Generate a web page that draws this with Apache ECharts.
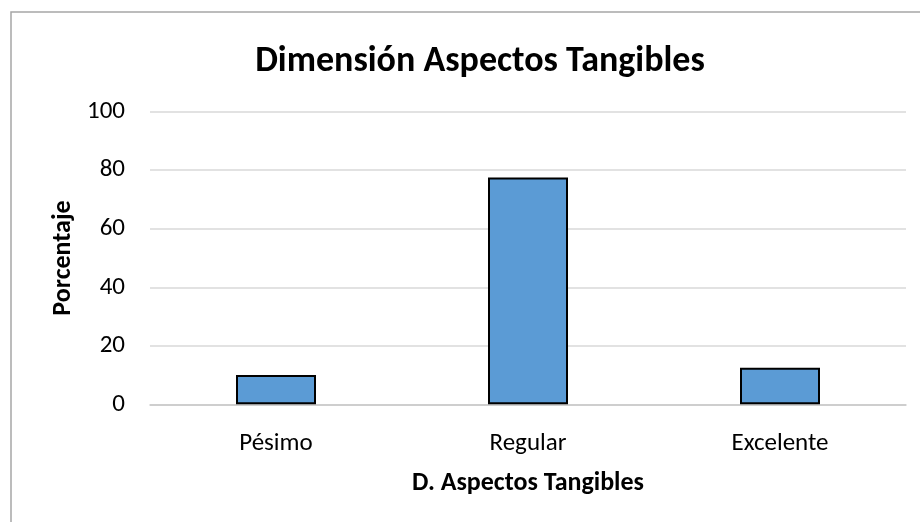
<!DOCTYPE html>
<html>
<head>
<meta charset="utf-8">
<script src="https://cdn.jsdelivr.net/npm/echarts@6/dist/echarts.min.js"></script>
<style>
  html, body { margin: 0; padding: 0; background: #fff; }
  #chart { width: 920px; height: 522px; }
</style>
</head>
<body>
<div id="chart"></div>
<script>
// Percentage of responses per rating level
const categories = ['Pésimo', 'Regular', 'Excelente'];
const percentages = [10.0, 77.5, 12.5];
const yTicks = { min: 0, max: 100, interval: 20 };

const FONT = 'Carlito, Lato, "Liberation Sans", sans-serif';

const chart = echarts.init(document.getElementById('chart'), null, { renderer: 'canvas' });

chart.setOption({
  backgroundColor: '#ffffff',
  animation: false,
  title: {
    text: 'Dimensión Aspectos Tangibles',
    left: 475,
    textAlign: 'center',
    top: 39,
    textStyle: { fontFamily: FONT, fontSize: 36, fontWeight: 'bold', color: '#000' }
  },
  graphic: [{
    type: 'polyline',
    shape: { points: [[11, 522], [11, 12], [920, 12]] },
    style: { stroke: '#a6a6a6', lineWidth: 1.5, fill: null }
  }],
  grid: { left: 150, right: 14, top: 111.7, bottom: 117.7 },
  xAxis: {
    type: 'category',
    data: categories,
    name: 'D. Aspectos Tangibles',
    nameLocation: 'middle',
    nameGap: 66,
    nameTextStyle: { fontFamily: FONT, fontSize: 26, fontWeight: 'bold', color: '#000' },
    axisLine: { lineStyle: { color: '#c8c8c8', width: 1.5 } },
    axisTick: { show: false },
    axisLabel: { fontFamily: FONT, fontSize: 25, color: '#000', margin: 27 }
  },
  yAxis: {
    type: 'value',
    min: yTicks.min,
    max: yTicks.max,
    interval: yTicks.interval,
    name: 'Porcentaje',
    nameLocation: 'middle',
    nameGap: 70,
    nameTextStyle: { fontFamily: FONT, fontSize: 26, fontWeight: 'bold', color: '#000' },
    axisLine: { show: false },
    axisTick: { show: false },
    splitLine: { lineStyle: { color: '#d9d9d9', width: 1.5 } },
    axisLabel: { fontFamily: FONT, fontSize: 25, color: '#000', margin: 25 }
  },
  series: [{
    type: 'bar',
    data: percentages,
    barWidth: 80,
    itemStyle: { color: '#5b9bd5', borderColor: '#000', borderWidth: 2 }
  }]
});
</script>
</body>
</html>
